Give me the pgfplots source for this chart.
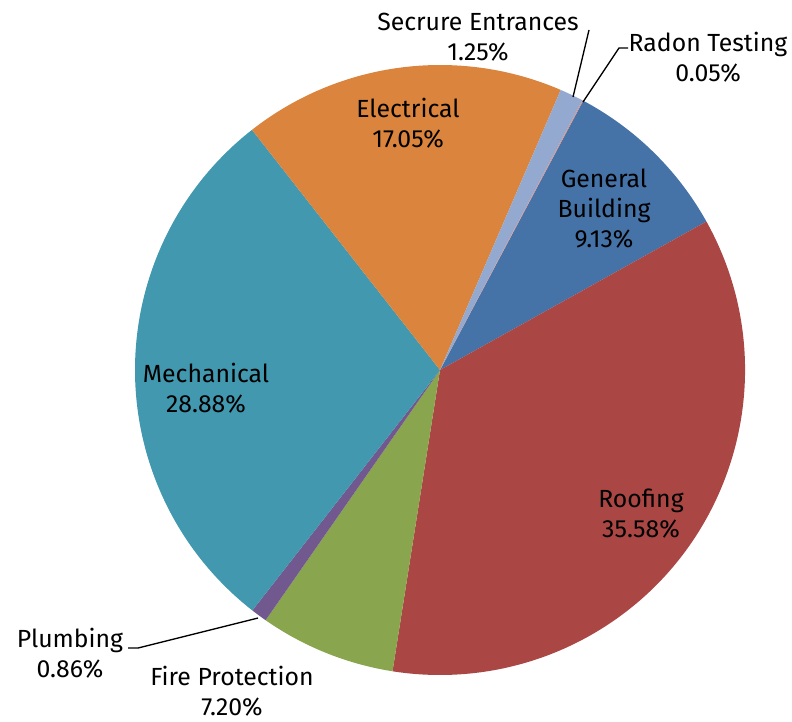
\documentclass[border=0pt]{standalone}
\usepackage{pgfplots}
\usepackage{pgfplotstable}
\pgfplotsset{compat=1.18}
\usepackage{fontspec}
\setmainfont{Fira Sans}
\definecolor{slice0}{HTML}{4572A7}
\definecolor{slice1}{HTML}{AA4643}
\definecolor{slice2}{HTML}{89A54E}
\definecolor{slice3}{HTML}{71588F}
\definecolor{slice4}{HTML}{4198AF}
\definecolor{slice5}{HTML}{DB843D}
\definecolor{slice6}{HTML}{93A9CF}
\definecolor{slice7}{HTML}{D19392}
\pgfplotstableread{
name value
GeneralBuilding 9.13
Roofing 35.58
FireProtection 7.20
Plumbing 0.86
Mechanical 28.88
Electrical 17.05
SecureEntrances 1.25
RadonTesting 0.05
}\piedata
% cumulative angles (clockwise from 62 degrees)
\pgfmathsetmacro\curang{62}
\pgfplotsforeachungrouped \i in {0,...,7}{%
  \pgfplotstablegetelem{\i}{value}\of\piedata
  \expandafter\xdef\csname sa\i\endcsname{\curang}%
  \pgfmathsetmacro\curang{\curang-3.6*\pgfplotsretval}%
  \expandafter\xdef\csname ea\i\endcsname{\curang}%
}
\begin{document}
\begin{tikzpicture}
\begin{axis}[name=ax, x=0.75pt, y=0.75pt, xmin=0, xmax=792, ymin=0, ymax=721,
  hide axis, clip=false, scale only axis]
\pgfplotsinvokeforeach{0,...,7}{%
  \fill[slice#1] (axis cs:440,351) -- ++({\csname sa#1\endcsname}:228.75pt)
     arc[start angle={\csname sa#1\endcsname}, end angle={\csname ea#1\endcsname}, radius=228.75pt] -- cycle;
}
\draw[line width=1pt] (axis cs:589,691) -- (axis cs:573,624);
\draw[line width=1pt] (axis cs:628,673) -- (axis cs:619,673) -- (axis cs:583,619);
\draw[line width=1pt] (axis cs:128,73) -- (axis cs:138,73) -- (axis cs:258,103);
\begin{scope}[every node/.style={align=center, font=\fontsize{18.6}{22.5}\selectfont, inner sep=0pt}]
\node at (axis cs:478,684) {Secrure Entrances\\1.25\%};
\node at (axis cs:708,664) {Radon Testing\\0.05\%};
\node at (axis cs:408,598) {Electrical\\17.05\%};
\node at (axis cs:604,512) {General\\Building\\9.13\%};
\node at (axis cs:206,333) {Mechanical\\28.88\%};
\node at (axis cs:641,207) {Roofing\\35.58\%};
\node at (axis cs:232,30) {Fire Protection\\7.20\%};
\node at (axis cs:70,68) {Plumbing\\0.86\%};
\end{scope}
\end{axis}
\pgfresetboundingbox
\path[use as bounding box] (ax.south west) rectangle (ax.north east);
\end{tikzpicture}
\end{document}
